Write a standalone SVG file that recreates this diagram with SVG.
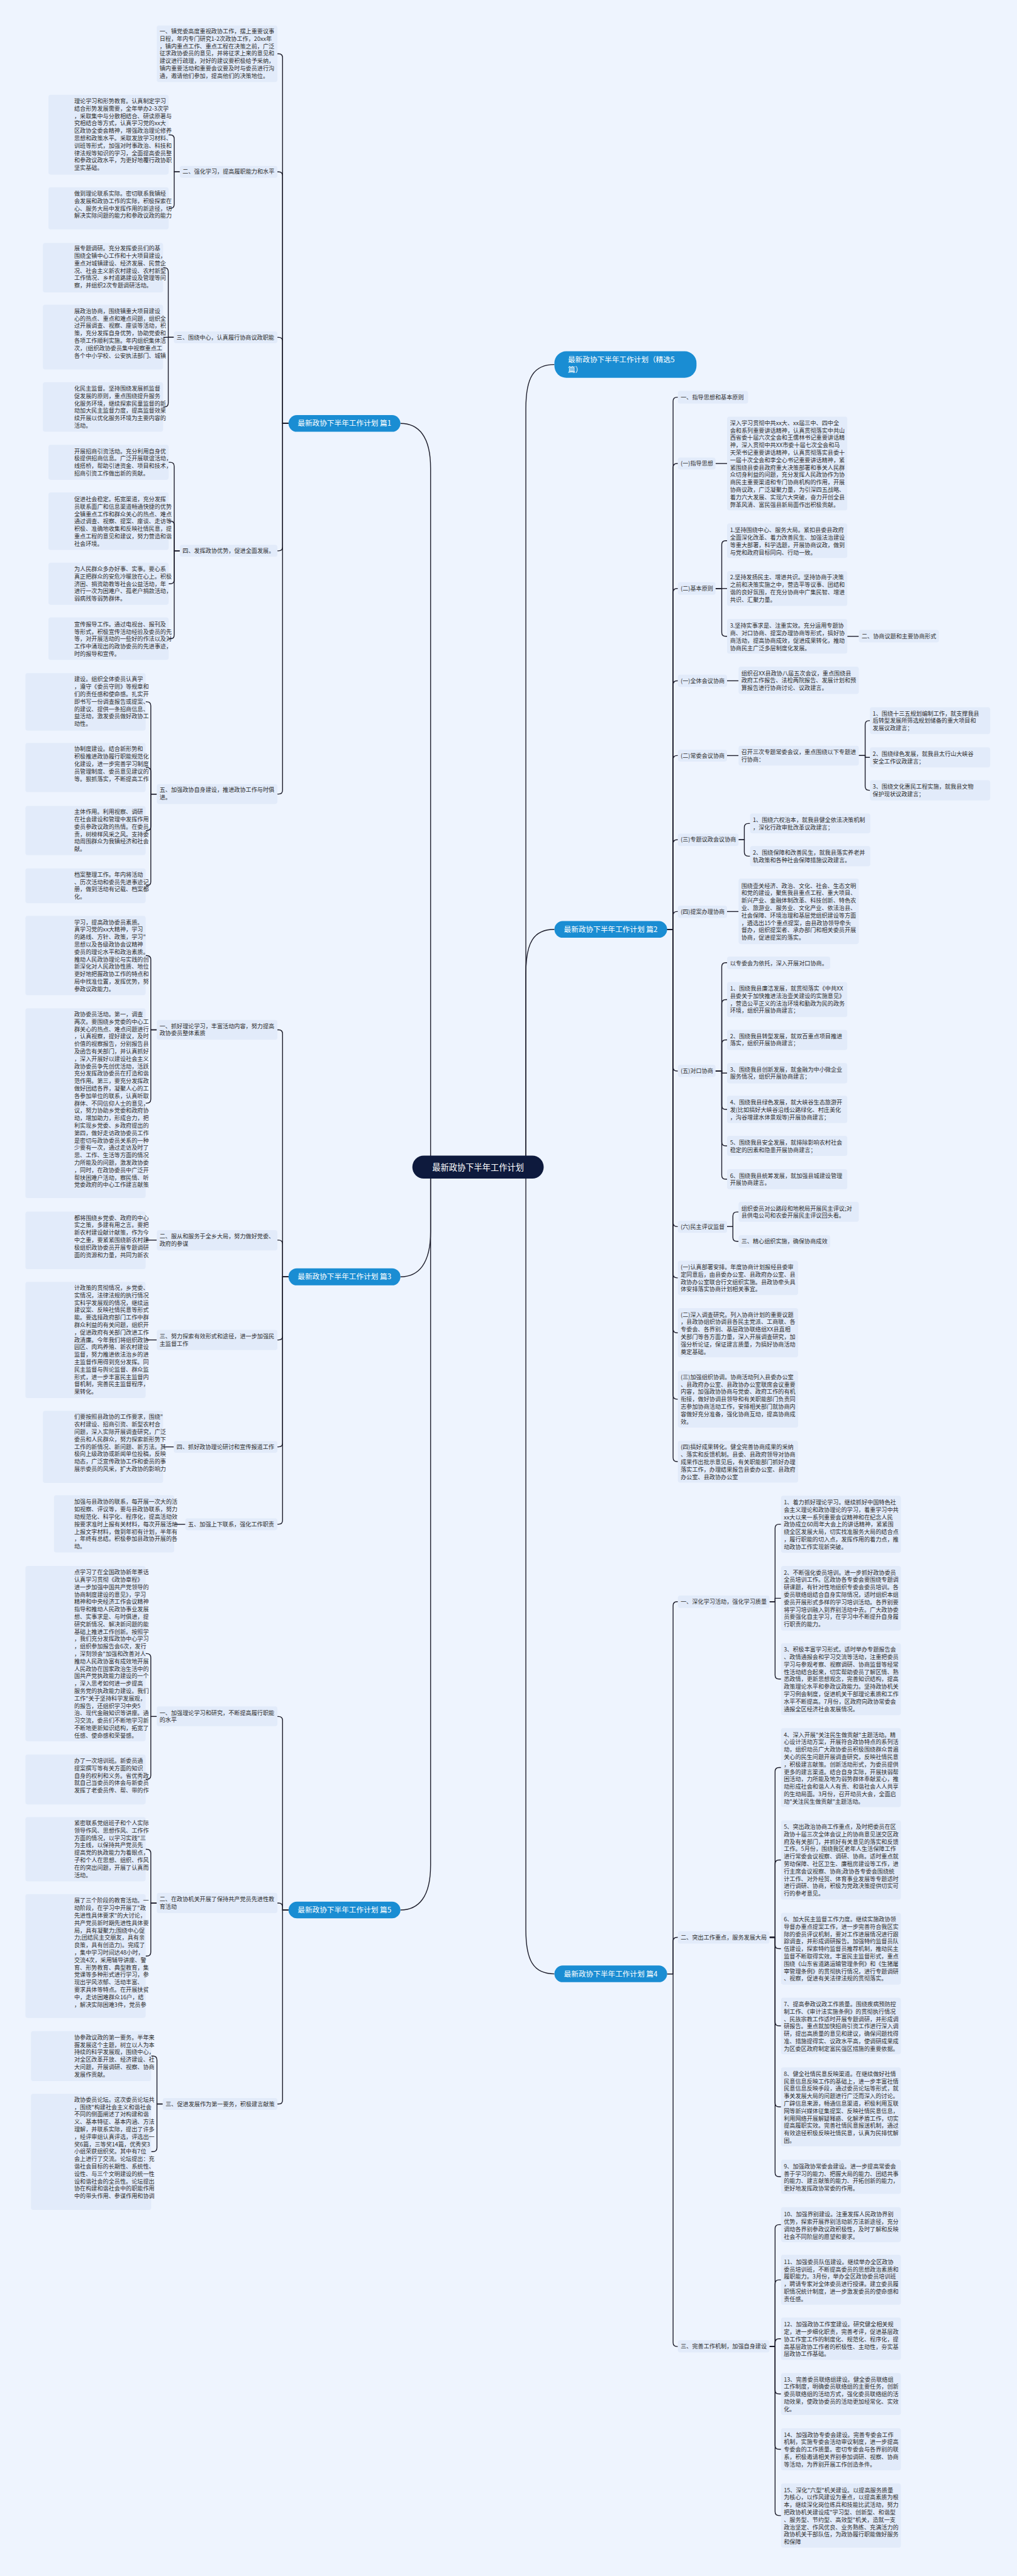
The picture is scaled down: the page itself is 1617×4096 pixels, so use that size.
<svg xmlns="http://www.w3.org/2000/svg" width="1617" height="4096" viewBox="0 0 1617 4096">
<style>
.bg{fill:#EEF4FE}
.b{fill:#E2EBFA}
.t{font-family:"Noto Sans CJK SC","Noto Sans",sans-serif;font-size:14.5px;fill:#2E2E2E}
.l{fill:none;stroke:#1D1D2B;stroke-width:2.2}
.n{fill:#1A8DD3}
.nt{font-family:"Noto Sans CJK SC","Noto Sans",sans-serif;font-size:18.5px;fill:#FFFFFF}
.r{fill:#0E1A3D}
.rt{font-family:"Noto Sans CJK SC","Noto Sans",sans-serif;font-size:21px;fill:#FFFFFF;text-anchor:middle}
</style>
<rect class="bg" x="0" y="0" width="1617" height="4096"/>
<g transform="scale(0.631)">
<g id="connectors">
<path class="l" d="M1009,1067 C1055,1067 1085,1100 1085,1180 L1085,2941"/>
<path class="l" d="M1009,3217.5 C1055,3217.5 1085,3184 1085,3104 L1085,2941"/>
<path class="l" d="M1009,4813 C1055,4813 1085,4780 1085,4700 L1085,2941"/>
<path class="l" d="M1397,918.5 C1345,918.5 1325,950 1325,1030 L1325,2941"/>
<path class="l" d="M1397,2342 C1345,2342 1325,2374 1325,2454 L1325,2941"/>
<path class="l" d="M1397,4974 C1345,4974 1325,4942 1325,4862 L1325,2941"/>
<path class="l" d="M727,1067H712V145.5Q712,135.5 702,135.5H699"/>
<path class="l" d="M727,1067H712V443Q712,433 702,433H699"/>
<path class="l" d="M727,1067H712V860Q712,850 702,850H699"/>
<path class="l" d="M727,1067H712V1378Q712,1388 702,1388H699"/>
<path class="l" d="M727,1067H712V1991Q712,2001 702,2001H699"/>
<path class="l" d="M453,433H439V350Q439,340 429,340H425"/>
<path class="l" d="M453,433H439V515Q439,525 429,525H425"/>
<path class="l" d="M438,850H424V684.5Q424,674.5 414,674.5H411"/>
<path class="l" d="M438,850H411"/>
<path class="l" d="M438,850H424V1015.5Q424,1025.5 414,1025.5H411"/>
<path class="l" d="M453,1388H439V1175Q439,1165 429,1165H425"/>
<path class="l" d="M453,1388H439V1323Q439,1313 429,1313H425"/>
<path class="l" d="M453,1388H439V1461Q439,1471 429,1471H425"/>
<path class="l" d="M453,1388H439V1600Q439,1610 429,1610H425"/>
<path class="l" d="M395,2001H380V1778.5Q380,1768.5 370,1768.5H367"/>
<path class="l" d="M395,2001H380V1944Q380,1934 370,1934H367"/>
<path class="l" d="M395,2001H380V2083Q380,2093 370,2093H367"/>
<path class="l" d="M395,2001H380V2222Q380,2232 370,2232H367"/>
<path class="l" d="M727,3217.5H712V2605Q712,2595 702,2595H699"/>
<path class="l" d="M727,3217.5H712V3135Q712,3125 702,3125H699"/>
<path class="l" d="M727,3217.5H712V3366.5Q712,3376.5 702,3376.5H699"/>
<path class="l" d="M727,3217.5H712V3636Q712,3646 702,3646H699"/>
<path class="l" d="M727,3217.5H712V3831Q712,3841 702,3841H699"/>
<path class="l" d="M395,2595H380V2418Q380,2408 370,2408H367"/>
<path class="l" d="M395,2595H380V2770Q380,2780 370,2780H367"/>
<path class="l" d="M395,3125H367"/>
<path class="l" d="M395,3376.5H367"/>
<path class="l" d="M438,3646H411"/>
<path class="l" d="M467,3841H439"/>
<path class="l" d="M727,4813H712V4335.5Q712,4325.5 702,4325.5H699"/>
<path class="l" d="M727,4813H712V4805.5Q712,4795.5 702,4795.5H699"/>
<path class="l" d="M727,4813H712V5292Q712,5302 702,5302H699"/>
<path class="l" d="M395,4325.5H380V4177Q380,4167 370,4167H367"/>
<path class="l" d="M395,4325.5H380V4474Q380,4484 370,4484H367"/>
<path class="l" d="M395,4795.5H380V4670Q380,4660 370,4660H367"/>
<path class="l" d="M395,4795.5H380V4919Q380,4929 370,4929H367"/>
<path class="l" d="M410,5302H395.5V5191Q395.5,5181 385.5,5181H381"/>
<path class="l" d="M410,5302H395.5V5412Q395.5,5422 385.5,5422H381"/>
<path class="l" d="M1681,2342H1696V1011Q1696,1001 1706,1001H1708"/>
<path class="l" d="M1681,2342H1696V1178Q1696,1168 1706,1168H1708"/>
<path class="l" d="M1681,2342H1696V1493Q1696,1483 1706,1483H1708"/>
<path class="l" d="M1681,2342H1696V1725.5Q1696,1715.5 1706,1715.5H1708"/>
<path class="l" d="M1681,2342H1696V1914Q1696,1904 1706,1904H1708"/>
<path class="l" d="M1681,2342H1696V2126Q1696,2116 1706,2116H1708"/>
<path class="l" d="M1681,2342H1696V2307Q1696,2297 1706,2297H1708"/>
<path class="l" d="M1681,2342H1696V2689Q1696,2699 1706,2699H1708"/>
<path class="l" d="M1681,2342H1696V3081Q1696,3091 1706,3091H1708"/>
<path class="l" d="M1681,2342H1696V3210Q1696,3220 1706,3220H1708"/>
<path class="l" d="M1681,2342H1696V3348.5Q1696,3358.5 1706,3358.5H1708"/>
<path class="l" d="M1681,2342H1696V3516Q1696,3526 1706,3526H1708"/>
<path class="l" d="M1681,2342H1696V3673Q1696,3683 1706,3683H1708"/>
<path class="l" d="M1803,1168H1832"/>
<path class="l" d="M1803,1483H1818.6V1372.6Q1818.6,1362.6 1828.6,1362.6H1832"/>
<path class="l" d="M1803,1483H1832"/>
<path class="l" d="M1803,1483H1818.6V1593.5Q1818.6,1603.5 1828.6,1603.5H1832"/>
<path class="l" d="M2135,1603.5H2164"/>
<path class="l" d="M1832,1715.5H1861"/>
<path class="l" d="M1832,1904H1861"/>
<path class="l" d="M2164,1904H2180V1826Q2180,1816 2190,1816H2192"/>
<path class="l" d="M2164,1904H2180V1908.5H2192"/>
<path class="l" d="M2164,1904H2180V1981.5Q2180,1991.5 2190,1991.5H2192"/>
<path class="l" d="M1861,2116H1875.5V2085Q1875.5,2075 1885.5,2075H1890"/>
<path class="l" d="M1861,2116H1875.5V2147.5Q1875.5,2157.5 1885.5,2157.5H1890"/>
<path class="l" d="M1832,2297H1861"/>
<path class="l" d="M1803,2699H1818.6V2436Q1818.6,2426 1828.6,2426H1832"/>
<path class="l" d="M1803,2699H1818.6V2529Q1818.6,2519 1828.6,2519H1832"/>
<path class="l" d="M1803,2699H1818.6V2630.5Q1818.6,2620.5 1828.6,2620.5H1832"/>
<path class="l" d="M1803,2699H1818.6V2704H1832"/>
<path class="l" d="M1803,2699H1818.6V2785.5Q1818.6,2795.5 1828.6,2795.5H1832"/>
<path class="l" d="M1803,2699H1818.6V2877.5Q1818.6,2887.5 1828.6,2887.5H1832"/>
<path class="l" d="M1803,2699H1818.6V2961.5Q1818.6,2971.5 1828.6,2971.5H1832"/>
<path class="l" d="M1832,3091H1846.7V3064Q1846.7,3054 1856.7,3054H1861"/>
<path class="l" d="M1832,3091H1846.7V3118Q1846.7,3128 1856.7,3128H1861"/>
<path class="l" d="M1681,4974H1696V4046Q1696,4036 1706,4036H1708"/>
<path class="l" d="M1681,4974H1696V4892Q1696,4882 1706,4882H1708"/>
<path class="l" d="M1681,4974H1696V5903Q1696,5913 1706,5913H1708"/>
<path class="l" d="M1939,4036H1953V3851Q1953,3841 1963,3841H1968"/>
<path class="l" d="M1939,4036H1953V4027.5H1968"/>
<path class="l" d="M1939,4036H1953V4221Q1953,4231 1963,4231H1968"/>
<path class="l" d="M1939,4882H1953V4464Q1953,4454 1963,4454H1968"/>
<path class="l" d="M1939,4882H1953V4697Q1953,4687 1963,4687H1968"/>
<path class="l" d="M1939,4882H1953V4900.5Q1953,4910.5 1963,4910.5H1968"/>
<path class="l" d="M1939,4882H1953V5095Q1953,5105 1963,5105H1968"/>
<path class="l" d="M1939,4882H1953V5299Q1953,5309 1963,5309H1968"/>
<path class="l" d="M1939,4882H1953V5475Q1953,5485 1963,5485H1968"/>
<path class="l" d="M1939,5913H1953V5616Q1953,5606 1963,5606H1968"/>
<path class="l" d="M1939,5913H1953V5755Q1953,5745 1963,5745H1968"/>
<path class="l" d="M1939,5913H1953V5903.5Q1953,5893.5 1963,5893.5H1968"/>
<path class="l" d="M1939,5913H1953V6022.5Q1953,6032.5 1963,6032.5H1968"/>
<path class="l" d="M1939,5913H1953V6162Q1953,6172 1963,6172H1968"/>
<path class="l" d="M1939,5913H1953V6329Q1953,6339 1963,6339H1968"/>
</g>

<g id="root"><rect class="r" x="1039" y="2912" width="331" height="58" rx="29"/><text class="rt" x="1204.5" y="2948.5">最新政协下半年工作计划</text></g>

<g id="p1"><rect class="n" x="727" y="1046" width="282" height="42" rx="21"/><text class="nt" x="868" y="1073.5" text-anchor="middle">最新政协下半年工作计划 篇1</text></g>
<g id="p3"><rect class="n" x="727" y="3196" width="282" height="43" rx="21"/><text class="nt" x="868" y="3224" text-anchor="middle">最新政协下半年工作计划 篇3</text></g>
<g id="p5"><rect class="n" x="727" y="4792" width="282" height="42" rx="21"/><text class="nt" x="868" y="4819.5" text-anchor="middle">最新政协下半年工作计划 篇5</text></g>
<g id="p0"><rect class="n" x="1397" y="885" width="358" height="67" rx="30"/><text class="nt"><tspan x="1431" y="913.5">最新政协下半年工作计划（精选5</tspan><tspan x="1431" y="937.5">篇）</tspan></text></g>
<g id="p2"><rect class="n" x="1397" y="2321" width="284" height="42" rx="21"/><text class="nt" x="1539" y="2348.5" text-anchor="middle">最新政协下半年工作计划 篇2</text></g>
<g id="p4"><rect class="n" x="1397" y="4953" width="284" height="42" rx="21"/><text class="nt" x="1539" y="4980.5" text-anchor="middle">最新政协下半年工作计划 篇4</text></g>

<g id="a1"><rect class="b" x="395" y="64" width="304" height="143" rx="6"/><text class="t"><tspan x="402" y="84.1">一、镇党委高度重视政协工作，摆上重要议事</tspan><tspan x="402" y="102.8">日程，年内专门研究1-2次政协工作，20xx年</tspan><tspan x="402" y="121.5">，镇内重点工作、重点工程在决策之前，广泛</tspan><tspan x="402" y="140.2">征求政协委员的意见，并将征求上来的意见和</tspan><tspan x="402" y="158.9">建议进行疏理，对好的建议要积极给予采纳，</tspan><tspan x="402" y="177.6">镇内重要活动和重要会议要及时与委员进行沟</tspan><tspan x="402" y="196.3">通，邀请他们参加，提高他们的决策地位。</tspan></text></g>

<g id="b2"><rect class="b" x="453" y="418" width="246" height="30" rx="6"/><text class="t" x="460" y="438">二、强化学习，提高履职能力和水平</text></g>
<g id="b2c1"><rect class="b" x="122" y="239" width="303" height="201" rx="6"/><text class="t"><tspan x="187" y="260">理论学习和形势教育。认真制定学习</tspan><tspan x="187" y="278.7">结合形势发展需要，全年举办2-3次学</tspan><tspan x="187" y="297.4">，采取集中与分散相结合、研读原著与</tspan><tspan x="187" y="316.1">究相结合等方式，认真学习党的xx大</tspan><tspan x="187" y="334.8">区政协全委会精神，增强政治理论修养</tspan><tspan x="187" y="353.5">思想和政策水平。采取发放学习材料、</tspan><tspan x="187" y="372.2">训班等形式，加强对时事政治、科技和</tspan><tspan x="187" y="390.9">律法规等知识的学习，全面提高委员整</tspan><tspan x="187" y="409.6">和参政议政水平，为更好地覆行政协职</tspan><tspan x="187" y="428.3">坚实基础。</tspan></text></g>
<g id="b2c2"><rect class="b" x="122" y="472" width="303" height="106" rx="6"/><text class="t"><tspan x="187" y="493">做到理论联系实际。密切联系我镇经</tspan><tspan x="187" y="511.7">会发展和政协工作的实际，积极探索在</tspan><tspan x="187" y="530.4">心、服务大局中发挥作用的新途径，切</tspan><tspan x="187" y="549.1">解决实际问题的能力和参政议政的能力</tspan></text></g>

<g id="b3"><rect class="b" x="438" y="835" width="261" height="30" rx="6"/><text class="t" x="445" y="855">三、围绕中心，认真履行协商议政职能</text></g>
<g id="b3c1"><rect class="b" x="108" y="612" width="303" height="125" rx="6"/><text class="t"><tspan x="187" y="631">展专题调研。充分发挥委员们的基</tspan><tspan x="187" y="649.7">围绕全镇中心工作和十大项目建设，</tspan><tspan x="187" y="668.4">重点对城镇建设、经济发展、民营企</tspan><tspan x="187" y="687.1">况、社会主义新农村建设、农村新型</tspan><tspan x="187" y="705.8">工作情况、乡村道路建设及管理等问</tspan><tspan x="187" y="724.5">察，并组织2次专题调研活动。</tspan></text></g>
<g id="b3c2"><rect class="b" x="108" y="768" width="303" height="163" rx="6"/><text class="t"><tspan x="187" y="789">展政治协商，围绕镇重大项目建设</tspan><tspan x="187" y="807.7">心的热点、重点和难点问题，组织全</tspan><tspan x="187" y="826.4">过开展调查、视察、座谈等活动，积</tspan><tspan x="187" y="845.1">策，充分发挥自身优势，协助党委和</tspan><tspan x="187" y="863.8">各项工作顺利实施。年内组织集体活</tspan><tspan x="187" y="882.5">次，(组织政协委员集中视察重点工</tspan><tspan x="187" y="901.2">各个中小学校、公安执法部门、城镇</tspan></text></g>
<g id="b3c3"><rect class="b" x="108" y="963" width="303" height="125" rx="6"/><text class="t"><tspan x="187" y="984">化民主监督。坚持围绕发展抓监督</tspan><tspan x="187" y="1002.7">促发展的原则，重点围绕提升服务</tspan><tspan x="187" y="1021.4">化服务环境，继续探索民童监督的新</tspan><tspan x="187" y="1040.1">动加大民主监督力度，提高监督效果</tspan><tspan x="187" y="1058.8">续开展以优化服务环境为主要内容的</tspan><tspan x="187" y="1077.5">活动。</tspan></text></g>

<g id="b4"><rect class="b" x="453" y="1373" width="246" height="30" rx="6"/><text class="t" x="460" y="1393">四、发挥政协优势，促进全面发展。</text></g>
<g id="b4c1"><rect class="b" x="122" y="1121" width="303" height="88" rx="6"/><text class="t"><tspan x="187" y="1142">开展招商引资活动。充分利用自身优</tspan><tspan x="187" y="1160.7">极提供招商信息。广泛开展联谊活动，</tspan><tspan x="187" y="1179.4">线搭桥，帮助引进资金、项目和技术，</tspan><tspan x="187" y="1198.1">招商引资工作做出新的贡献。</tspan></text></g>
<g id="b4c2"><rect class="b" x="122" y="1241" width="303" height="145" rx="6"/><text class="t"><tspan x="187" y="1263">促进社会稳定。拓宽渠道，充分发挥</tspan><tspan x="187" y="1281.7">员联系面广和信息渠道畅通快捷的优势</tspan><tspan x="187" y="1300.4">全镇重点工作和群众关心的热点、难点</tspan><tspan x="187" y="1319.1">通过调查、视察、提案、座谈、走访等</tspan><tspan x="187" y="1337.8">积极、准确地收集和反映社情民意，提</tspan><tspan x="187" y="1356.5">重点工程的意见和建议，努力营造和谐</tspan><tspan x="187" y="1375.2">社会环境。</tspan></text></g>
<g id="b4c3"><rect class="b" x="122" y="1418" width="303" height="106" rx="6"/><text class="t"><tspan x="187" y="1439">为人民群众多办好事、实事。要心系</tspan><tspan x="187" y="1457.7">真正把群众的安危冷暖放在心上。积极</tspan><tspan x="187" y="1476.4">济困、捐资助教等社会公益活动，年</tspan><tspan x="187" y="1495.1">进行一次为困难户、孤老户捐款活动，</tspan><tspan x="187" y="1513.8">弱病残等弱势群体。</tspan></text></g>
<g id="b4c4"><rect class="b" x="122" y="1556" width="303" height="107" rx="6"/><text class="t"><tspan x="187" y="1578">宣传报导工作。通过电视台、报刊及</tspan><tspan x="187" y="1596.7">等形式，积极宣传活动经验及委员的先</tspan><tspan x="187" y="1615.4">等，对开展活动的一些好的作法以及对</tspan><tspan x="187" y="1634.1">工作中涌现出的政协委员的先进事迹，</tspan><tspan x="187" y="1652.8">时的报导和宣传。</tspan></text></g>

<g id="b5"><rect class="b" x="395" y="1976" width="304" height="50" rx="6"/><text class="t"><tspan x="402" y="1995">五、加强政协自身建设，推进政协工作与时俱</tspan><tspan x="402" y="2014.7">进。</tspan></text></g>
<g id="b5c1"><rect class="b" x="64" y="1696" width="303" height="145" rx="6"/><text class="t"><tspan x="187" y="1717">建设。组织全体委员认真学</tspan><tspan x="187" y="1735.7">，遵守《委员守则》等规章和</tspan><tspan x="187" y="1754.4">们的责任感和使命感。扎实开</tspan><tspan x="187" y="1773.1">即书写一份调查报告或提案、</tspan><tspan x="187" y="1791.8">的建议、提供一条招商信息、</tspan><tspan x="187" y="1810.5">益活动，激发委员做好政协工</tspan><tspan x="187" y="1829.2">动性。</tspan></text></g>
<g id="b5c2"><rect class="b" x="64" y="1872" width="303" height="124" rx="6"/><text class="t"><tspan x="187" y="1893">协制度建设。结合新形势和</tspan><tspan x="187" y="1911.7">积极推进政协履行职能规范化</tspan><tspan x="187" y="1930.4">化建设，进一步完善学习制度</tspan><tspan x="187" y="1949.1">员管理制度、委员意见建议的</tspan><tspan x="187" y="1967.8">等。狠抓落实，不断提高工作</tspan></text></g>
<g id="b5c3"><rect class="b" x="64" y="2031" width="303" height="124" rx="6"/><text class="t"><tspan x="187" y="2051">主体作用。利用视察、调研</tspan><tspan x="187" y="2069.7">在社会建设和管理中发挥作用</tspan><tspan x="187" y="2088.4">委员参政议政的热情。在委员</tspan><tspan x="187" y="2107.1">责，树榜样风采之风。支持委</tspan><tspan x="187" y="2125.8">动周围群众为我镇经济和社会</tspan><tspan x="187" y="2144.5">献。</tspan></text></g>
<g id="b5c4"><rect class="b" x="64" y="2188" width="303" height="88" rx="6"/><text class="t"><tspan x="187" y="2209">档案整理工作。年内将活动</tspan><tspan x="187" y="2227.7">、历次活动和委员先进事迹记</tspan><tspan x="187" y="2246.4">册，做到活动有记载、档案都</tspan><tspan x="187" y="2265.1">化。</tspan></text></g>

<g id="c1"><rect class="b" x="395" y="2570" width="304" height="50" rx="6"/><text class="t"><tspan x="402" y="2590.5">一、抓好理论学习，丰富活动内容，努力提高</tspan><tspan x="402" y="2609.2">政协委员整体素质</tspan></text></g>
<g id="c1c1"><rect class="b" x="64" y="2308" width="303" height="200" rx="6"/><text class="t"><tspan x="187" y="2329">学习，提高政协委员素质。</tspan><tspan x="187" y="2347.7">真学习党的xx大精神，学习</tspan><tspan x="187" y="2366.4">的路线、方针、政策，学习"</tspan><tspan x="187" y="2385.1">思想以及各级政协会议精神</tspan><tspan x="187" y="2403.8">委员的理论水平和政治素质。</tspan><tspan x="187" y="2422.5">推动人民政协理论与实践的创</tspan><tspan x="187" y="2441.2">新深化对人民政协性质、地位</tspan><tspan x="187" y="2459.9">更好地把握政协工作的特点和</tspan><tspan x="187" y="2478.6">局中找准位置，发挥优势，努</tspan><tspan x="187" y="2497.3">参政议政能力。</tspan></text></g>
<g id="c1c2"><rect class="b" x="64" y="2541" width="303" height="478" rx="6"/><text class="t"><tspan x="187" y="2561">政协委员活动。第一，调查</tspan><tspan x="187" y="2579.7">两次。要围绕乡党委的中心工</tspan><tspan x="187" y="2598.4">群关心的热点、难点问题进行</tspan><tspan x="187" y="2617.1">，认真视察，提好建议，及时</tspan><tspan x="187" y="2635.8">价值的视察报告，分别报告县</tspan><tspan x="187" y="2654.5">及函告有关部门，并认真抓好</tspan><tspan x="187" y="2673.2">，深入开展好以建设社会主义</tspan><tspan x="187" y="2691.9">政协委员争先创优活动，活跃</tspan><tspan x="187" y="2710.6">充分发挥政协委员在打造和谐</tspan><tspan x="187" y="2729.3">范作用。第三，要充分发挥政</tspan><tspan x="187" y="2748">做好团结各界，凝聚人心的工</tspan><tspan x="187" y="2766.7">各参加单位的联系，认真听取</tspan><tspan x="187" y="2785.4">群体、不同信仰人士的意见，</tspan><tspan x="187" y="2804.1">议，努力协助乡党委和政府协</tspan><tspan x="187" y="2822.8">动，增加助力，形成合力，把</tspan><tspan x="187" y="2841.5">利实现乡党委、乡政府提出的</tspan><tspan x="187" y="2860.2">第四，做好走访政协委员工作</tspan><tspan x="187" y="2878.9">是密切与政协委员关系的一种</tspan><tspan x="187" y="2897.6">少要有一次，通过走访及时了</tspan><tspan x="187" y="2916.3">思、工作、生活等方面的情况</tspan><tspan x="187" y="2935">力所能及的问题，激发政协委</tspan><tspan x="187" y="2953.7">，同时，在政协委员中广泛开</tspan><tspan x="187" y="2972.4">帮扶困难户活动，察民情、听</tspan><tspan x="187" y="2991.1">党委政府的中心工作建言献策</tspan></text></g>

<g id="c2"><rect class="b" x="395" y="3100" width="304" height="51" rx="6"/><text class="t"><tspan x="402" y="3120">二、服从和服务于全乡大局，努力做好党委、</tspan><tspan x="402" y="3138.7">政府的参谋</tspan></text></g>
<g id="c2c"><rect class="b" x="64" y="3053" width="303" height="145" rx="6"/><text class="t"><tspan x="187" y="3074">都将围绕乡党委、政府的中心</tspan><tspan x="187" y="3092.7">实之策，多建有用之言。要把</tspan><tspan x="187" y="3111.4">新农村建设献计献策，作为今</tspan><tspan x="187" y="3130.1">中之重，要紧紧围绕新农村建</tspan><tspan x="187" y="3148.8">极组织政协委员开展专题调研</tspan><tspan x="187" y="3167.5">面的资源和力量，共同为新农</tspan></text></g>

<g id="c3"><rect class="b" x="395" y="3351" width="304" height="51" rx="6"/><text class="t"><tspan x="402" y="3372">三、努力探索有效形式和途径，进一步加强民</tspan><tspan x="402" y="3390.7">主监督工作</tspan></text></g>
<g id="c3c"><rect class="b" x="64" y="3230" width="303" height="293" rx="6"/><text class="t"><tspan x="187" y="3250.5">计政策的贯彻情况，乡党委、</tspan><tspan x="187" y="3269.2">实情况，法律法规的执行情况</tspan><tspan x="187" y="3287.9">实科学发展观的情况，继续运</tspan><tspan x="187" y="3306.6">建议案、反映社情民意等形式</tspan><tspan x="187" y="3325.3">能。要选择政府部门工作中群</tspan><tspan x="187" y="3344">群众利益的有关问题，组织开</tspan><tspan x="187" y="3362.7">，促进政府有关部门改进工作</tspan><tspan x="187" y="3381.4">政清廉。今年我们将组织政协</tspan><tspan x="187" y="3400.1">园区、肉鸡养殖、新农村建设</tspan><tspan x="187" y="3418.8">监督，努力推进依法治乡的进</tspan><tspan x="187" y="3437.5">主监督作用得到充分发挥。同</tspan><tspan x="187" y="3456.2">民主监督与舆论监督、群众监</tspan><tspan x="187" y="3474.9">形式，进一步丰富民主监督内</tspan><tspan x="187" y="3493.6">督机制，完善民主监督程序，</tspan><tspan x="187" y="3512.3">果转化。</tspan></text></g>

<g id="c4"><rect class="b" x="438" y="3631" width="261" height="30" rx="6"/><text class="t" x="445" y="3651">四、抓好政协理论研讨和宣传报道工作</text></g>
<g id="c4c"><rect class="b" x="108" y="3555" width="303" height="182" rx="6"/><text class="t"><tspan x="187" y="3576">们要按照县政协的工作要求，围绕"</tspan><tspan x="187" y="3594.7">农村建设、招商引资、新型农村合</tspan><tspan x="187" y="3613.4">问题，深入实际开展调查研究，广泛</tspan><tspan x="187" y="3632.1">委员和人民群众，努力探索新形势下</tspan><tspan x="187" y="3650.8">工作的新情况、新问题、新方法。其</tspan><tspan x="187" y="3669.5">极向上级政协或新闻单位投稿，反映</tspan><tspan x="187" y="3688.2">动态，广泛宣传政协工作和委员的事</tspan><tspan x="187" y="3706.9">展示委员的风采，扩大政协的影响力</tspan></text></g>

<g id="c5"><rect class="b" x="467" y="3826" width="232" height="30" rx="6"/><text class="t" x="474" y="3846">五、加强上下联系，强化工作职责</text></g>
<g id="c5c"><rect class="b" x="136" y="3768" width="303" height="144" rx="6"/><text class="t"><tspan x="187" y="3790">加强与县政协的联系，每开展一次大的活</tspan><tspan x="187" y="3808.7">如视察、评议等，要与县政协联系，努力</tspan><tspan x="187" y="3827.4">动规范化、科学化、程序化，提高活动效</tspan><tspan x="187" y="3846.1">按要求准时上报有关材料，每次开展活动</tspan><tspan x="187" y="3864.8">上报文字材料，做到年初有计划，半年有</tspan><tspan x="187" y="3883.5">，年终有总结。积极参加县政协开展的各</tspan><tspan x="187" y="3902.2">动。</tspan></text></g>

<g id="d1"><rect class="b" x="395" y="4300" width="304" height="50" rx="6"/><text class="t"><tspan x="402" y="4321">一、加强理论学习和研究，不断提高履行职能</tspan><tspan x="402" y="4339.7">的水平</tspan></text></g>
<g id="d1c1"><rect class="b" x="64" y="3946" width="303" height="442" rx="6"/><text class="t"><tspan x="187" y="3967">点学习了在全国政协新年茶话</tspan><tspan x="187" y="3985.7">认真学习贯彻《政协章程》</tspan><tspan x="187" y="4004.4">进一步加强中国共产党领导的</tspan><tspan x="187" y="4023.1">协商制度建设的意见》，学习</tspan><tspan x="187" y="4041.8">精神和中央经济工作会议精神</tspan><tspan x="187" y="4060.5">指导和推动人民政协事业发展</tspan><tspan x="187" y="4079.2">想、实事求是、与时俱进，提</tspan><tspan x="187" y="4097.9">研究新情况、解决新问题的能</tspan><tspan x="187" y="4116.6">基础上推进工作创新。按照学</tspan><tspan x="187" y="4135.3">，我们充分发挥政协中心学习</tspan><tspan x="187" y="4154">，组织参加报告会6次，发行</tspan><tspan x="187" y="4172.7">，深刻领会"加强和改善对人</tspan><tspan x="187" y="4191.4">推动人民政协富有成效地开展</tspan><tspan x="187" y="4210.1">人民政协在国家政治生活中的</tspan><tspan x="187" y="4228.8">国共产党执政能力建设的一个</tspan><tspan x="187" y="4247.5">，深入思考如何进一步提高</tspan><tspan x="187" y="4266.2">服务党的执政能力建设。我们</tspan><tspan x="187" y="4284.9">工作"关于坚持科学发展观，</tspan><tspan x="187" y="4303.6">的报告，还组织学习中央5</tspan><tspan x="187" y="4322.3">治、现代金融知识等讲座。通</tspan><tspan x="187" y="4341">习交流，委员们不断地学习新</tspan><tspan x="187" y="4359.7">不断地更新知识结构，拓宽了</tspan><tspan x="187" y="4378.4">任感、使命感和荣誉感。</tspan></text></g>
<g id="d1c2"><rect class="b" x="64" y="4421" width="303" height="126" rx="6"/><text class="t"><tspan x="187" y="4442">办了一次培训班。新委员通</tspan><tspan x="187" y="4460.7">提案撰写等有关方面的知识</tspan><tspan x="187" y="4479.4">自身的权利和义务。省优秀政</tspan><tspan x="187" y="4498.1">就自己当委员的体会与新委员</tspan><tspan x="187" y="4516.8">发挥了老委员传、帮、带的作</tspan></text></g>

<g id="d2"><rect class="b" x="395" y="4770" width="304" height="51" rx="6"/><text class="t"><tspan x="402" y="4791">二、在政协机关开展了保持共产党员先进性教</tspan><tspan x="402" y="4809.7">育活动</tspan></text></g>
<g id="d2c1"><rect class="b" x="64" y="4579" width="303" height="162" rx="6"/><text class="t"><tspan x="187" y="4599">紧密联系党组班子和个人实际</tspan><tspan x="187" y="4617.7">领导作风、思想作风、工作作</tspan><tspan x="187" y="4636.4">方面的情况，以学习实践"三</tspan><tspan x="187" y="4655.1">为主线，以保持共产党员先</tspan><tspan x="187" y="4673.8">提高党的执政能力为着眼点，</tspan><tspan x="187" y="4692.5">子和个人在思想、组织、作风</tspan><tspan x="187" y="4711.2">在的突出问题，开展了认真而</tspan><tspan x="187" y="4729.9">活动。</tspan></text></g>
<g id="d2c2"><rect class="b" x="64" y="4773" width="303" height="312" rx="6"/><text class="t"><tspan x="187" y="4794.5">展了三个阶段的教育活动。一</tspan><tspan x="187" y="4813.2">动阶段，在学习中开展了"政</tspan><tspan x="187" y="4831.9">先进性具体要求"的大讨论，</tspan><tspan x="187" y="4850.6">共产党员新时期先进性具体要</tspan><tspan x="187" y="4869.3">局，具有凝聚力;围绕中心促</tspan><tspan x="187" y="4888">力;团结民主交朋友，具有亲</tspan><tspan x="187" y="4906.7">良策，具有创造力)。完成了</tspan><tspan x="187" y="4925.4">，集中学习时间达48小时，</tspan><tspan x="187" y="4944.1">交流4次，采用辅导讲座、警</tspan><tspan x="187" y="4962.8">育、形势教育、典型教育，集</tspan><tspan x="187" y="4981.5">党课等多种形式进行学习，参</tspan><tspan x="187" y="5000.2">现出学风浓郁、活动丰富、</tspan><tspan x="187" y="5018.9">要求具体等特点。在开展扶贫</tspan><tspan x="187" y="5037.6">中，走访困难群众16户，结</tspan><tspan x="187" y="5056.3">，解决实际困难3件，党员参</tspan></text></g>

<g id="d3"><rect class="b" x="410" y="5287" width="289" height="30" rx="6"/><text class="t" x="417" y="5307">三、促进发展作为第一要务，积极建言献策</text></g>
<g id="d3c1"><rect class="b" x="78" y="5118" width="303" height="126" rx="6"/><text class="t"><tspan x="187" y="5139">协参政议政的第一要务。半年来</tspan><tspan x="187" y="5157.7">握发展这个主题，树立以人为本</tspan><tspan x="187" y="5176.4">持续的科学发展观，围绕中心，</tspan><tspan x="187" y="5195.1">对全区改革开放、经济建设、社</tspan><tspan x="187" y="5213.8">大问题，开展调研、视察、协商</tspan><tspan x="187" y="5232.5">发展作贡献。</tspan></text></g>
<g id="d3c2"><rect class="b" x="78" y="5276" width="303" height="293" rx="6"/><text class="t"><tspan x="187" y="5296">政协委员论坛。这次委员论坛共</tspan><tspan x="187" y="5314.7">，围绕"构建社会主义和谐社会</tspan><tspan x="187" y="5333.4">不同的侧面阐述了对构建和谐</tspan><tspan x="187" y="5352.1">义、基本特征、基本内涵、方法</tspan><tspan x="187" y="5370.8">理解，并联系实际，提出了许多</tspan><tspan x="187" y="5389.5">，经评审组认真评选，评选出一</tspan><tspan x="187" y="5408.2">奖6篇，三等奖14篇，优秀奖3</tspan><tspan x="187" y="5426.9">小组荣获组织奖。其中有7位</tspan><tspan x="187" y="5445.6">会上进行了交流。论坛提出：充</tspan><tspan x="187" y="5464.3">谐社会目标的长期性、系统性、</tspan><tspan x="187" y="5483">设性、与三个文明建设的统一性</tspan><tspan x="187" y="5501.7">设和谐社会的全员性。论坛提出</tspan><tspan x="187" y="5520.4">协在构建和谐社会中的职能作用</tspan><tspan x="187" y="5539.1">中的带头作用、参谋作用和协调</tspan></text></g>

<g id="e1"><rect class="b" x="1708" y="985" width="177" height="32" rx="6"/><text class="t" x="1715" y="1006">一、指导思想和基本原则</text></g>
<g id="e2"><rect class="b" x="1708" y="1153" width="95" height="30" rx="6"/><text class="t" x="1715" y="1173">(一)指导思想</text></g>
<g id="e2c"><rect class="b" x="1832" y="1050" width="303" height="236" rx="6"/><text class="t"><tspan x="1839.5" y="1071">深入学习贯彻中共xx大、xx届三中、四中全</tspan><tspan x="1839.5" y="1089.7">会和系列重要讲话精神，认真贯彻落实中共山</tspan><tspan x="1839.5" y="1108.4">西省委十届六次全会和王儒林书记重要讲话精</tspan><tspan x="1839.5" y="1127.1">神，深入贯彻中共XX市委十届七次全会和马</tspan><tspan x="1839.5" y="1145.8">天荣书记重要讲话精神，认真贯彻落实县委十</tspan><tspan x="1839.5" y="1164.5">一届十次全会和李全心书记重要讲话精神，紧</tspan><tspan x="1839.5" y="1183.2">紧围绕县委县政府重大决策部署和事关人民群</tspan><tspan x="1839.5" y="1201.9">众切身利益的问题，充分发挥人民政协作为协</tspan><tspan x="1839.5" y="1220.6">商民主重要渠道和专门协商机构的作用，开展</tspan><tspan x="1839.5" y="1239.3">协商议政，广泛凝聚力量，为引深四五战略、</tspan><tspan x="1839.5" y="1258">着力六大发展、实现六大突破，奋力开创全县</tspan><tspan x="1839.5" y="1276.7">弊革风清、富民强县新局面作出积极贡献。</tspan></text></g>
<g id="e3"><rect class="b" x="1708" y="1467" width="95" height="32" rx="6"/><text class="t" x="1715" y="1488">(二)基本原则</text></g>
<g id="e3c1"><rect class="b" x="1832" y="1319" width="303" height="87" rx="6"/><text class="t"><tspan x="1839.5" y="1341">1.坚持围绕中心、服务大局。紧扣县委县政府</tspan><tspan x="1839.5" y="1359.7">全面深化改革、着力改善民生、加强法治建设</tspan><tspan x="1839.5" y="1378.4">等重大部署，科学选题，开展协商议政，做到</tspan><tspan x="1839.5" y="1397.1">与党和政府目标同向、行动一致。</tspan></text></g>
<g id="e3c2"><rect class="b" x="1832" y="1439" width="303" height="88" rx="6"/><text class="t"><tspan x="1839.5" y="1460">2.坚持发扬民主、增进共识。坚持协商于决策</tspan><tspan x="1839.5" y="1478.7">之前和决策实施之中，营造平等议事、团结和</tspan><tspan x="1839.5" y="1497.4">谐的良好氛围，在充分协商中广集民智、增进</tspan><tspan x="1839.5" y="1516.1">共识、汇聚力量。</tspan></text></g>
<g id="e3c3"><rect class="b" x="1832" y="1560" width="303" height="87" rx="6"/><text class="t"><tspan x="1839.5" y="1582">3.坚持实事求是、注重实效。充分运用专题协</tspan><tspan x="1839.5" y="1600.7">商、对口协商、提案办理协商等形式，搞好协</tspan><tspan x="1839.5" y="1619.4">商活动，提高协商成效，促进成果转化，推动</tspan><tspan x="1839.5" y="1638.1">协商民主广泛多层制度化发展。</tspan></text></g>
<g id="g2"><rect class="b" x="2164" y="1587" width="202" height="32" rx="6"/><text class="t" x="2171" y="1608.5">二、协商议题和主要协商形式</text></g>
<g id="e4"><rect class="b" x="1708" y="1700" width="124" height="31" rx="6"/><text class="t" x="1715" y="1720.5">(一)全体会议协商</text></g>
<g id="e4c"><rect class="b" x="1861" y="1680" width="303" height="69" rx="6"/><text class="t"><tspan x="1868" y="1701.5">组织召XX县政协八届五次会议，重点围绕县</tspan><tspan x="1868" y="1720.2">政府工作报告、法检两院报告、发展计划和预</tspan><tspan x="1868" y="1738.9">算报告进行协商讨论、议政建言。</tspan></text></g>
<g id="e5"><rect class="b" x="1708" y="1889" width="124" height="30" rx="6"/><text class="t" x="1715" y="1909">(二)常委会议协商</text></g>
<g id="e5c"><rect class="b" x="1861" y="1879" width="303" height="50" rx="6"/><text class="t"><tspan x="1868" y="1900">召开三次专题常委会议，重点围绕以下专题进</tspan><tspan x="1868" y="1918.7">行协商：</tspan></text></g>
<g id="e5g1"><rect class="b" x="2192" y="1782" width="303" height="68" rx="6"/><text class="t"><tspan x="2199" y="1803">1、围绕十三五规划编制工作，就支撑我县</tspan><tspan x="2199" y="1821.7">后转型发展所筛选规划储备的重大项目和</tspan><tspan x="2199" y="1840.4">发展议政建言；</tspan></text></g>
<g id="e5g2"><rect class="b" x="2192" y="1883" width="303" height="51" rx="6"/><text class="t"><tspan x="2199" y="1905">2、围绕绿色发展，就我县太行山大峡谷</tspan><tspan x="2199" y="1923.7">安全工作议政建言；</tspan></text></g>
<g id="e5g3"><rect class="b" x="2192" y="1966" width="303" height="51" rx="6"/><text class="t"><tspan x="2199" y="1988">3、围绕文化惠民工程实施，就我县文物</tspan><tspan x="2199" y="2006.7">保护现状议政建言；</tspan></text></g>
<g id="e6"><rect class="b" x="1708" y="2100.5" width="153" height="31.5" rx="6"/><text class="t" x="1715" y="2121">(三)专题议政会议协商</text></g>
<g id="e6h1"><rect class="b" x="1890" y="2050" width="303" height="50" rx="6"/><text class="t"><tspan x="1897" y="2071">1、围绕六权治本，就我县健全依法决策机制</tspan><tspan x="1897" y="2089.7">，深化行政审批改革议政建言；</tspan></text></g>
<g id="e6h2"><rect class="b" x="1890" y="2132" width="303" height="51" rx="6"/><text class="t"><tspan x="1897" y="2153.5">2、围绕保障和改善民生，就我县落实养老并</tspan><tspan x="1897" y="2172.2">轨政策和各种社会保障措施议政建言。</tspan></text></g>
<g id="e7"><rect class="b" x="1708" y="2282" width="124" height="31" rx="6"/><text class="t" x="1715" y="2302">(四)提案办理协商</text></g>
<g id="e7c"><rect class="b" x="1861" y="2214" width="303" height="165" rx="6"/><text class="t"><tspan x="1868" y="2237">围绕壶关经济、政治、文化、社会、生态文明</tspan><tspan x="1868" y="2255.7">和党的建设，聚焦我县重点工程、重大项目、</tspan><tspan x="1868" y="2274.4">新兴产业、金融体制改革、科技创新、特色农</tspan><tspan x="1868" y="2293.1">业、旅游业、服务业、文化产业、依法治县、</tspan><tspan x="1868" y="2311.8">社会保障、环境治理和基层党组织建设等方面</tspan><tspan x="1868" y="2330.5">，遴选出15个重点提案，由县政协领导牵头</tspan><tspan x="1868" y="2349.2">督办，组织提案者、承办部门和相关委员开展</tspan><tspan x="1868" y="2367.9">协商，促进提案的落实。</tspan></text></g>
<g id="e8"><rect class="b" x="1708" y="2683" width="95" height="31" rx="6"/><text class="t" x="1715" y="2704">(五)对口协商</text></g>
<g id="e8i1"><rect class="b" x="1832" y="2410.5" width="260" height="31.5" rx="6"/><text class="t" x="1839.5" y="2432">以专委会为依托，深入开展对口协商。</text></g>
<g id="e8i2"><rect class="b" x="1832" y="2474.6" width="303" height="88.4" rx="6"/><text class="t"><tspan x="1839.5" y="2496">1、围绕我县廉洁发展，就贯彻落实《中共XX</tspan><tspan x="1839.5" y="2514.7">县委关于加快推进法治壶关建设的实施意见》</tspan><tspan x="1839.5" y="2533.4">，营造公平正义的法治环境和勤政为民的政务</tspan><tspan x="1839.5" y="2552.1">环境，组织开展协商建言；</tspan></text></g>
<g id="e8i3"><rect class="b" x="1832" y="2595" width="303" height="51" rx="6"/><text class="t"><tspan x="1839.5" y="2616">2、围绕我县转型发展，就双百重点项目推进</tspan><tspan x="1839.5" y="2634.7">落实，组织开展协商建言；</tspan></text></g>
<g id="e8i4"><rect class="b" x="1832" y="2678.5" width="303" height="51.5" rx="6"/><text class="t"><tspan x="1839.5" y="2699.7">3、围绕我县创新发展，就金融为中小微企业</tspan><tspan x="1839.5" y="2718.4">服务情况，组织开展协商建言；</tspan></text></g>
<g id="e8i5"><rect class="b" x="1832" y="2761" width="303" height="69" rx="6"/><text class="t"><tspan x="1839.5" y="2783">4、围绕我县绿色发展，就大峡谷生态旅游开</tspan><tspan x="1839.5" y="2801.7">发(比如搞好大峡谷沿线公路绿化、村庄美化</tspan><tspan x="1839.5" y="2820.4">，沟谷增建水体景观等)开展协商建言；</tspan></text></g>
<g id="e8i6"><rect class="b" x="1832" y="2862" width="303" height="51" rx="6"/><text class="t"><tspan x="1839.5" y="2884">5、围绕我县安全发展，就排除影响农村社会</tspan><tspan x="1839.5" y="2902.7">稳定的因素和隐患开展协商建言；</tspan></text></g>
<g id="e8i7"><rect class="b" x="1832" y="2946" width="303" height="51" rx="6"/><text class="t"><tspan x="1839.5" y="2967.6">6、围绕我县统筹发展，就加强县城建设管理</tspan><tspan x="1839.5" y="2986.3">开展协商建言。</tspan></text></g>
<g id="e9"><rect class="b" x="1708" y="3076" width="124" height="30.5" rx="6"/><text class="t" x="1715" y="3096">(六)民主评议监督</text></g>
<g id="e9j1"><rect class="b" x="1861" y="3028.6" width="303" height="50.4" rx="6"/><text class="t"><tspan x="1868" y="3050">组织委员对公路段和地税局开展民主评议;对</tspan><tspan x="1868" y="3068.7">县供电公司和农委开展民主评议回头看。</tspan></text></g>
<g id="e9j2"><rect class="b" x="1861" y="3112.5" width="231" height="31.2" rx="6"/><text class="t" x="1868" y="3133">三、精心组织实施，确保协商成效</text></g>
<g id="e10"><rect class="b" x="1708" y="3176.6" width="303" height="87" rx="6"/><text class="t"><tspan x="1715" y="3198">(一)认真部署安排。年度协商计划报经县委审</tspan><tspan x="1715" y="3216.7">定同意后，由县委办公室、县政府办公室、县</tspan><tspan x="1715" y="3235.4">政协办公室联合行文组织实施。县政协牵头具</tspan><tspan x="1715" y="3254.1">体安排落实协商计划相关事宜。</tspan></text></g>
<g id="e11"><rect class="b" x="1708" y="3296.5" width="303" height="124" rx="6"/><text class="t"><tspan x="1715" y="3318">(二)深入调查研究。列入协商计划的重要议题</tspan><tspan x="1715" y="3336.7">，县政协组织协调县各民主党派、工商联、各</tspan><tspan x="1715" y="3355.4">专委会、各界别、基层政协联络组XX县直相</tspan><tspan x="1715" y="3374.1">关部门等各方面力量，深入开展调查研究，加</tspan><tspan x="1715" y="3392.8">强分析论证，保证建言质量，为搞好协商活动</tspan><tspan x="1715" y="3411.5">奠定基础。</tspan></text></g>
<g id="e12"><rect class="b" x="1708" y="3454" width="303" height="143.5" rx="6"/><text class="t"><tspan x="1715" y="3475">(三)加强组织协调。协商活动列入县委办公室</tspan><tspan x="1715" y="3493.7">、县政府办公室、县政协办公室联席会议重要</tspan><tspan x="1715" y="3512.4">内容，加强政协协商与党委、政府工作的有机</tspan><tspan x="1715" y="3531.1">衔接，做好协调县领导和有关职能部门负责同</tspan><tspan x="1715" y="3549.8">志参加协商活动工作，安排相关部门就协商内</tspan><tspan x="1715" y="3568.5">容做好充分准备，强化协商互动，提高协商成</tspan><tspan x="1715" y="3587.2">效。</tspan></text></g>
<g id="e13"><rect class="b" x="1708" y="3630.5" width="303" height="105.5" rx="6"/><text class="t"><tspan x="1715" y="3652">(四)搞好成果转化。健全完善协商成果的采纳</tspan><tspan x="1715" y="3670.7">、落实和反馈机制。县委、县政府领导对协商</tspan><tspan x="1715" y="3689.4">成果作出批示意见后，有关职能部门抓好办理</tspan><tspan x="1715" y="3708.1">落实工作，办理结果报告县委办公室、县政府</tspan><tspan x="1715" y="3726.8">办公室、县政协办公室</tspan></text></g>

<g id="f1"><rect class="b" x="1708" y="4020.7" width="231" height="31.3" rx="6"/><text class="t" x="1715" y="4041">一、深化学习活动，强化学习质量</text></g>
<g id="f1k1"><rect class="b" x="1968" y="3769" width="302" height="144" rx="6"/><text class="t"><tspan x="1975" y="3790.7">1、着力抓好理论学习。继续抓好中国特色社</tspan><tspan x="1975" y="3809.4">会主义理论和政协理论的学习，着重学习中共</tspan><tspan x="1975" y="3828.1">xx大以来一系列重要会议精神和在纪念人民</tspan><tspan x="1975" y="3846.8">政协成立60周年大会上的讲话精神，紧紧围</tspan><tspan x="1975" y="3865.5">绕全区发展大局，切实找准服务大局的结合点</tspan><tspan x="1975" y="3884.2">，履行职能的切入点，发挥作用的着力点，推</tspan><tspan x="1975" y="3902.9">动政协工作实现新突破。</tspan></text></g>
<g id="f1k2"><rect class="b" x="1968" y="3946" width="302" height="163" rx="6"/><text class="t"><tspan x="1975" y="3967.6">2、不断强化委员培训。进一步抓好政协委员</tspan><tspan x="1975" y="3986.3">全员培训工作。区政协各专委会要围绕专题调</tspan><tspan x="1975" y="4005">研课题，有针对性地组织专委会委员培训。各</tspan><tspan x="1975" y="4023.7">委员联络组结合自身实际情况，适时组织本组</tspan><tspan x="1975" y="4042.4">委员开展形式多样的学习培训活动。各界别要</tspan><tspan x="1975" y="4061.1">将学习培训融入到界别活动中去。广大政协委</tspan><tspan x="1975" y="4079.8">员要强化自主学习，在学习中不断提升自身履</tspan><tspan x="1975" y="4098.5">行职责的能力。</tspan></text></g>
<g id="f1k3"><rect class="b" x="1968" y="4140.6" width="302" height="181.4" rx="6"/><text class="t"><tspan x="1975" y="4162">3、积极丰富学习形式。适时举办专题报告会</tspan><tspan x="1975" y="4180.7">、政情通报会和学习交流等活动，注重把委员</tspan><tspan x="1975" y="4199.4">学习与参观考察、视察调研、协商监督等经常</tspan><tspan x="1975" y="4218.1">性活动结合起来，切实帮助委员了解区情、熟</tspan><tspan x="1975" y="4236.8">悉政情，更新思想观念，完善知识结构，提高</tspan><tspan x="1975" y="4255.5">政策理论水平和参政议政能力。坚持政协机关</tspan><tspan x="1975" y="4274.2">学习例会制度，促进机关干部理论素质和工作</tspan><tspan x="1975" y="4292.9">水平不断提高。7月份，区政府向政协常委会</tspan><tspan x="1975" y="4311.6">通报全区经济社会发展情况。</tspan></text></g>

<g id="f2"><rect class="b" x="1708" y="4866.6" width="231" height="31.2" rx="6"/><text class="t" x="1715" y="4887">二、突出工作重点，服务发展大局</text></g>
<g id="f2m1"><rect class="b" x="1968" y="4354.6" width="302" height="199.4" rx="6"/><text class="t"><tspan x="1975" y="4376.4">4、深入开展"关注民生做贡献"主题活动。精</tspan><tspan x="1975" y="4395.1">心设计活动方案，开展符合政协特点的系列活</tspan><tspan x="1975" y="4413.8">动，组织动员广大政协委员积极围绕群众普遍</tspan><tspan x="1975" y="4432.5">关心的民生问题开展调查研究，反映社情民意</tspan><tspan x="1975" y="4451.2">，积极建言献策。创新活动形式，为委员提供</tspan><tspan x="1975" y="4469.9">更多的建言渠道。结合自身实际，开展扶弱帮</tspan><tspan x="1975" y="4488.6">困活动，力所能及地为弱势群体奉献爱心，推</tspan><tspan x="1975" y="4507.3">动形成社会和谐人人有责、和谐社会人人共享</tspan><tspan x="1975" y="4526">的生动局面。3月份，召开动员大会，全面启</tspan><tspan x="1975" y="4544.7">动"关注民生做贡献"主题活动。</tspan></text></g>
<g id="f2m2"><rect class="b" x="1968" y="4587" width="302" height="200" rx="6"/><text class="t"><tspan x="1975" y="4608.5">5、突出政治协商工作重点，及时把委员在区</tspan><tspan x="1975" y="4627.2">政协十届三次全体会议上的协商意见送交区政</tspan><tspan x="1975" y="4645.9">府及有关部门，并抓好有关意见的落实和反馈</tspan><tspan x="1975" y="4664.6">工作。5月份，围绕我区老年人生活保障工作</tspan><tspan x="1975" y="4683.3">进行常委会议视察、调研、协商。适时重点就</tspan><tspan x="1975" y="4702">劳动保障、社区卫生、廉租房建设等工作，进</tspan><tspan x="1975" y="4720.7">行主席会议视察、协商;政协各专委会围绕统</tspan><tspan x="1975" y="4739.4">计工作、对外经贸、体育事业发展等专题适时</tspan><tspan x="1975" y="4758.1">进行调研、协商，积极为党政决策提供切实可</tspan><tspan x="1975" y="4776.8">行的参考意见。</tspan></text></g>
<g id="f2m3"><rect class="b" x="1968" y="4820" width="302" height="181" rx="6"/><text class="t"><tspan x="1975" y="4841.6">6、加大民主监督工作力度。继续实施政协领</tspan><tspan x="1975" y="4860.3">导督办重点提案工作，进一步完善符合我区实</tspan><tspan x="1975" y="4879">际的委员评议机制，要对工作进展情况进行跟</tspan><tspan x="1975" y="4897.7">踪调查，并形成调研报告。加强特约监督员队</tspan><tspan x="1975" y="4916.4">伍建设，探索特约监督员推荐机制，推动民主</tspan><tspan x="1975" y="4935.1">监督不断取得实效。丰富民主监督形式，重点</tspan><tspan x="1975" y="4953.8">围绕《山东省道路运输管理条例》和《生猪屠</tspan><tspan x="1975" y="4972.5">宰管理条例》的贯彻执行情况，进行专题调研</tspan><tspan x="1975" y="4991.2">、视察，促进有关法律法规的贯彻落实。</tspan></text></g>
<g id="f2m4"><rect class="b" x="1968" y="5034" width="302" height="142.6" rx="6"/><text class="t"><tspan x="1975" y="5055.6">7、提高参政议政工作质量。围绕疾病预防控</tspan><tspan x="1975" y="5074.3">制工作、《审计法实施条例》的贯彻执行情况</tspan><tspan x="1975" y="5093">、民族宗教工作适时开展专题调研，并形成调</tspan><tspan x="1975" y="5111.7">研报告。重点就加快招商引资工作进行深入调</tspan><tspan x="1975" y="5130.4">研，提出高质量的意见和建议，确保问题找得</tspan><tspan x="1975" y="5149.1">准、措施提得实、议政水平高，使调研成果成</tspan><tspan x="1975" y="5167.8">为区委区政府制定富民强区措施的重要依据。</tspan></text></g>
<g id="f2m5"><rect class="b" x="1968" y="5209.5" width="302" height="199" rx="6"/><text class="t"><tspan x="1975" y="5231">8、健全社情民意反映渠道。在继续做好社情</tspan><tspan x="1975" y="5249.7">民意信息反映工作的基础上，进一步丰富社情</tspan><tspan x="1975" y="5268.4">民意信息反映手段，通过委员论坛等形式，就</tspan><tspan x="1975" y="5287.1">事关发展大局的问题进行广泛而深入的讨论。</tspan><tspan x="1975" y="5305.8">广辟信息来源，畅通信息渠道，积极利用互联</tspan><tspan x="1975" y="5324.5">网等新兴媒体征集提案、反映社情民意信息，</tspan><tspan x="1975" y="5343.2">利用网络开展解疑释惑、化解矛盾工作，切实</tspan><tspan x="1975" y="5361.9">提高履职实效。完善社情民意报送机制，通过</tspan><tspan x="1975" y="5380.6">有效途径积极反映社情民意，认真为民排忧解</tspan><tspan x="1975" y="5399.3">困。</tspan></text></g>
<g id="f2m6"><rect class="b" x="1968" y="5442" width="302" height="86.5" rx="6"/><text class="t"><tspan x="1975" y="5464">9、加强政协常委会建设。进一步提高常委会</tspan><tspan x="1975" y="5482.7">善于学习的能力、把握大局的能力、团结共事</tspan><tspan x="1975" y="5501.4">的能力、建言献策的能力、开拓创新的能力，</tspan><tspan x="1975" y="5520.1">更好地发挥政协常委的作用。</tspan></text></g>

<g id="f3"><rect class="b" x="1708" y="5897" width="231" height="31" rx="6"/><text class="t" x="1715" y="5918">三、完善工作机制，加强自身建设</text></g>
<g id="f3n1"><rect class="b" x="1968" y="5562" width="302" height="88" rx="6"/><text class="t"><tspan x="1975" y="5585">10、加强界别建设。注重发挥人民政协界别</tspan><tspan x="1975" y="5603.7">优势，探索开展界别活动新方法新途径，充分</tspan><tspan x="1975" y="5622.4">调动各界别参政议政积极性，及时了解和反映</tspan><tspan x="1975" y="5641.1">社会不同阶层的愿望和要求。</tspan></text></g>
<g id="f3n2"><rect class="b" x="1968" y="5682" width="302" height="126" rx="6"/><text class="t"><tspan x="1975" y="5705">11、加强委员队伍建设。继续举办全区政协</tspan><tspan x="1975" y="5723.7">委员培训班，不断提高委员的思想政治素质和</tspan><tspan x="1975" y="5742.4">履职能力。3月份，举办全区政协委员培训班</tspan><tspan x="1975" y="5761.1">，聘请专家对全体委员进行授课。建立委员履</tspan><tspan x="1975" y="5779.8">职情况统计制度，进一步激发委员的使命感和</tspan><tspan x="1975" y="5798.5">责任感。</tspan></text></g>
<g id="f3n3"><rect class="b" x="1968" y="5840" width="302" height="107" rx="6"/><text class="t"><tspan x="1975" y="5862.6">12、加强政协工作室建设。研究健全相关规</tspan><tspan x="1975" y="5881.3">定，进一步细化职责，完善考评，促进基层政</tspan><tspan x="1975" y="5900">协工作室工作的制度化、规范化、程序化，提</tspan><tspan x="1975" y="5918.7">高基层政协工作者的积极性、主动性，夯实基</tspan><tspan x="1975" y="5937.4">层政协工作基础。</tspan></text></g>
<g id="f3n4"><rect class="b" x="1968" y="5979.6" width="302" height="106" rx="6"/><text class="t"><tspan x="1975" y="6001">13、完善委员联络组建设。健全委员联络组</tspan><tspan x="1975" y="6019.7">工作制度，明确委员联络组的主要任务，创新</tspan><tspan x="1975" y="6038.4">委员联络组的活动方式，强化委员联络组的活</tspan><tspan x="1975" y="6057.1">动效果，使政协委员的活动更加经常化、实效</tspan><tspan x="1975" y="6075.8">化。</tspan></text></g>
<g id="f3n5"><rect class="b" x="1968" y="6119" width="302" height="106" rx="6"/><text class="t"><tspan x="1975" y="6140.5">14、加强政协专委会建设。完善专委会工作</tspan><tspan x="1975" y="6159.2">机制，实施专委会活动审议制度，进一步提高</tspan><tspan x="1975" y="6177.9">专委会的工作质量。密切专委会与各界别的联</tspan><tspan x="1975" y="6196.6">系，积极邀请相关界别参加调研、视察、协商</tspan><tspan x="1975" y="6215.3">等活动，为界别开展工作创造条件。</tspan></text></g>
<g id="f3n6"><rect class="b" x="1968" y="6258" width="302" height="162" rx="6"/><text class="t"><tspan x="1975" y="6280">15、深化"六型"机关建设。以提高服务质量</tspan><tspan x="1975" y="6298.7">为核心，以作风建设为重点，以提高素质为根</tspan><tspan x="1975" y="6317.4">本，继续深化岗位练兵和技能比武活动，努力</tspan><tspan x="1975" y="6336.1">把政协机关建设成"学习型、创新型、和谐型</tspan><tspan x="1975" y="6354.8">、服务型、节约型、高效型"机关，造就一支</tspan><tspan x="1975" y="6373.5">政治坚定、作风优良、业务熟练、充满活力的</tspan><tspan x="1975" y="6392.2">政协机关干部队伍，为政协履行职能做好服务</tspan><tspan x="1975" y="6410.9">和保障</tspan></text></g>
</g>
</svg>
